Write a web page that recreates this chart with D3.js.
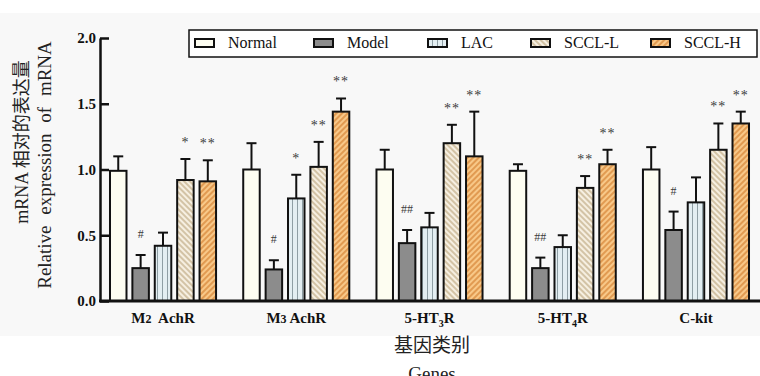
<!DOCTYPE html>
<html>
<head>
<meta charset="utf-8">
<script src="https://cdn.jsdelivr.net/npm/d3@7"></script>
<style>
  body { margin: 0; background: #fff; }
  svg { display: block; }
  .sig { opacity: 0.99; }
</style>
</head>
<body>
<svg id="chart" width="760" height="376"></svg>
<script>
// --- data ---
var genes   = ["M2 AchR", "M3 AchR", "5-HT3R", "5-HT4R", "C-kit"];
// label pieces: [text, kind] kind 1 = small digit on baseline, 2 = subscript, 3 = back to baseline
var geneLabels = [
    [["M", 0], ["2", 1], ["  AchR", 0]],
    [["M", 0], ["3", 1], [" AchR", 0]],
    [["5-HT", 0], ["3", 2], ["R", 3]],
    [["5-HT", 0], ["4", 2], ["R", 3]],
    [["C-kit", 0]]
];
var groups  = ["Normal", "Model", "LAC", "SCCL-L", "SCCL-H"];

var normalMean = [0.99, 1.00, 1.00, 0.99, 1.00];
var modelMean  = [0.25, 0.24, 0.44, 0.25, 0.54];
var lacMean    = [0.42, 0.78, 0.56, 0.41, 0.75];
var scclLMean  = [0.92, 1.02, 1.20, 0.86, 1.15];
var scclHMean  = [0.91, 1.44, 1.10, 1.04, 1.35];

var normalErr = [0.11, 0.20, 0.15, 0.05, 0.17];
var modelErr  = [0.10, 0.07, 0.10, 0.08, 0.14];
var lacErr    = [0.10, 0.18, 0.11, 0.09, 0.19];
var scclLErr  = [0.16, 0.19, 0.14, 0.09, 0.20];
var scclHErr  = [0.16, 0.10, 0.34, 0.11, 0.09];

var normalSig = ["", "", "", "", ""];
var modelSig  = ["#", "#", "##", "##", "#"];
var lacSig    = ["", "*", "", "", ""];
var scclLSig  = ["*", "**", "**", "**", "**"];
var scclHSig  = ["**", "**", "**", "**", "**"];

var yTicks = [0, 0.5, 1.0, 1.5, 2.0];

var means = [normalMean, modelMean, lacMean, scclLMean, scclHMean];
var errs  = [normalErr, modelErr, lacErr, scclLErr, scclHErr];
var sigs  = [normalSig, modelSig, lacSig, scclLSig, scclHSig];
var fills = ["#fdfdf1", "#8c8c8c", "url(#patLac)", "url(#patSccll)", "url(#patScclh)"];

var serif = "'Liberation Serif', 'Times New Roman', serif";

var svg = d3.select("#chart");

// faint grey panel behind the figure
svg.append("rect").attr("x", 0).attr("y", 13).attr("width", 760).attr("height", 323).attr("fill", "#f8f8f8");

// patterns
var defs = svg.append("defs");
var lac = defs.append("pattern").attr("id", "patLac").attr("patternUnits", "userSpaceOnUse")
    .attr("width", 5).attr("height", 10);
lac.append("rect").attr("width", 5).attr("height", 10).attr("fill", "#e3eef2");
lac.append("line").attr("x1", 2.5).attr("x2", 2.5).attr("y1", 0).attr("y2", 10)
    .attr("stroke", "#8e9ea4").attr("stroke-width", 1);

function stripes(id, bg, fg, angle) {
    var p = defs.append("pattern").attr("id", id).attr("patternUnits", "userSpaceOnUse")
        .attr("width", 4).attr("height", 10).attr("patternTransform", "rotate(" + angle + ")");
    p.append("rect").attr("width", 4).attr("height", 10).attr("fill", bg);
    p.append("line").attr("x1", 2).attr("x2", 2).attr("y1", 0).attr("y2", 10)
        .attr("stroke", fg).attr("stroke-width", 1.4);
}
stripes("patSccll", "#f6efe1", "#c4b08c", -45);
stripes("patScclh", "#f8c888", "#d8873a", 45);

// scales
var y = d3.scaleLinear().domain([0, 2]).range([301, 38]);
var x0 = d3.scaleBand().domain(genes).range([100, 759]).paddingInner(0.204).paddingOuter(0.075);
var x1 = d3.scaleBand().domain(groups).range([0, x0.bandwidth()]).paddingInner(0.263).paddingOuter(0);

// bars
var g = svg.append("g");
var sigLayer = svg.append("g").attr("class", "sig");
genes.forEach(function(gene, gi) {
    groups.forEach(function(grp, k) {
        var v = means[k][gi], e = errs[k][gi];
        var bx = x0(gene) + x1(grp), bw = x1.bandwidth(), cx = bx + bw / 2;
        // error bar (upper only)
        g.append("line").attr("x1", cx).attr("x2", cx).attr("y1", y(v)).attr("y2", y(v + e))
            .attr("stroke", "#111").attr("stroke-width", 2);
        g.append("line").attr("x1", cx - 5).attr("x2", cx + 5).attr("y1", y(v + e)).attr("y2", y(v + e))
            .attr("stroke", "#111").attr("stroke-width", 2);
        g.append("rect").attr("x", bx).attr("y", y(v)).attr("width", bw).attr("height", y(0) - y(v))
            .attr("fill", fills[k]).attr("stroke", "#111").attr("stroke-width", 2);
        var s = sigs[k][gi];
        if (s) {
            var star = s.charAt(0) === "*";
            sigLayer.append("text").attr("x", cx).attr("y", y(v + e) - 21 + (star ? 9 : 4))
                .attr("text-anchor", "middle").attr("fill", "#3a3a3a")
                .style("font-family", serif).style("font-size", star ? "14px" : "12px")
                .style("letter-spacing", star ? "1px" : "0px")
                .text(s);
        }
    });
});

// y axis
var yAxis = svg.append("g").attr("transform", "translate(100,0)")
    .call(d3.axisLeft(y).tickValues(yTicks).tickFormat(d3.format(".1f")).tickSize(-9).tickSizeOuter(0).tickPadding(4));
yAxis.select(".domain").attr("stroke", "#111").attr("stroke-width", 2.5);
yAxis.selectAll(".tick line").attr("stroke", "#111").attr("stroke-width", 2.5);
yAxis.selectAll(".tick text").attr("fill", "#111")
    .style("font-family", serif).style("font-size", "15px").style("font-weight", "bold");

// x axis line
svg.append("line").attr("x1", 99).attr("x2", 760).attr("y1", y(0)).attr("y2", y(0))
    .attr("stroke", "#111").attr("stroke-width", 3);

// x category labels
genes.forEach(function(gene, gi) {
    var t = svg.append("text").attr("x", x0(gene) + x0.bandwidth() / 2).attr("y", 323)
        .attr("text-anchor", "middle").attr("fill", "#111")
        .style("font-family", serif).style("font-size", "15px").style("font-weight", "bold")
        .style("white-space", "pre");
    geneLabels[gi].forEach(function(part) {
        var sp = t.append("tspan").text(part[0]);
        if (part[1] === 1) sp.style("font-size", "12px");
        if (part[1] === 2) sp.style("font-size", "10px").attr("dy", 4);
        if (part[1] === 3) sp.attr("dy", -4);
    });
});

// axis titles
svg.append("text").attr("transform", "translate(28,142) rotate(-90)").attr("text-anchor", "middle")
    .attr("fill", "#222").style("font-size", "18px")
    .call(function(t) {
        t.append("tspan").style("font-family", serif).text("mRNA ");
        t.append("tspan").style("font-family", "'Noto Sans CJK SC', sans-serif").text("相对的表达量");
    });
svg.append("text").attr("transform", "translate(51,165) rotate(-90)").attr("text-anchor", "middle")
    .attr("fill", "#222").style("font-family", serif).style("font-size", "19px")
    .style("word-spacing", "6px")
    .text("Relative expression of mRNA");
svg.append("text").attr("x", 432).attr("y", 352).attr("text-anchor", "middle")
    .attr("fill", "#222").style("font-family", "'Noto Sans CJK SC', sans-serif").style("font-size", "19px")
    .text("基因类别");
svg.append("text").attr("x", 432).attr("y", 380).attr("text-anchor", "middle")
    .attr("fill", "#222").style("font-family", serif).style("font-size", "19px")
    .text("Genes");

// legend
var legend = svg.append("g");
legend.append("rect").attr("x", 189).attr("y", 30).attr("width", 568).attr("height", 27)
    .attr("fill", "#fff").attr("stroke", "#111").attr("stroke-width", 1.5);
var legX = [195, 314, 428, 531, 651];
groups.forEach(function(grp, k) {
    legend.append("rect").attr("x", legX[k]).attr("y", 39).attr("width", 19).attr("height", 8)
        .attr("fill", fills[k]).attr("stroke", "#111").attr("stroke-width", 2);
    legend.append("text").attr("x", legX[k] + 33).attr("y", 48).attr("fill", "#111")
        .style("font-family", serif).style("font-size", "16px").text(grp);
});
</script>
</body>
</html>
